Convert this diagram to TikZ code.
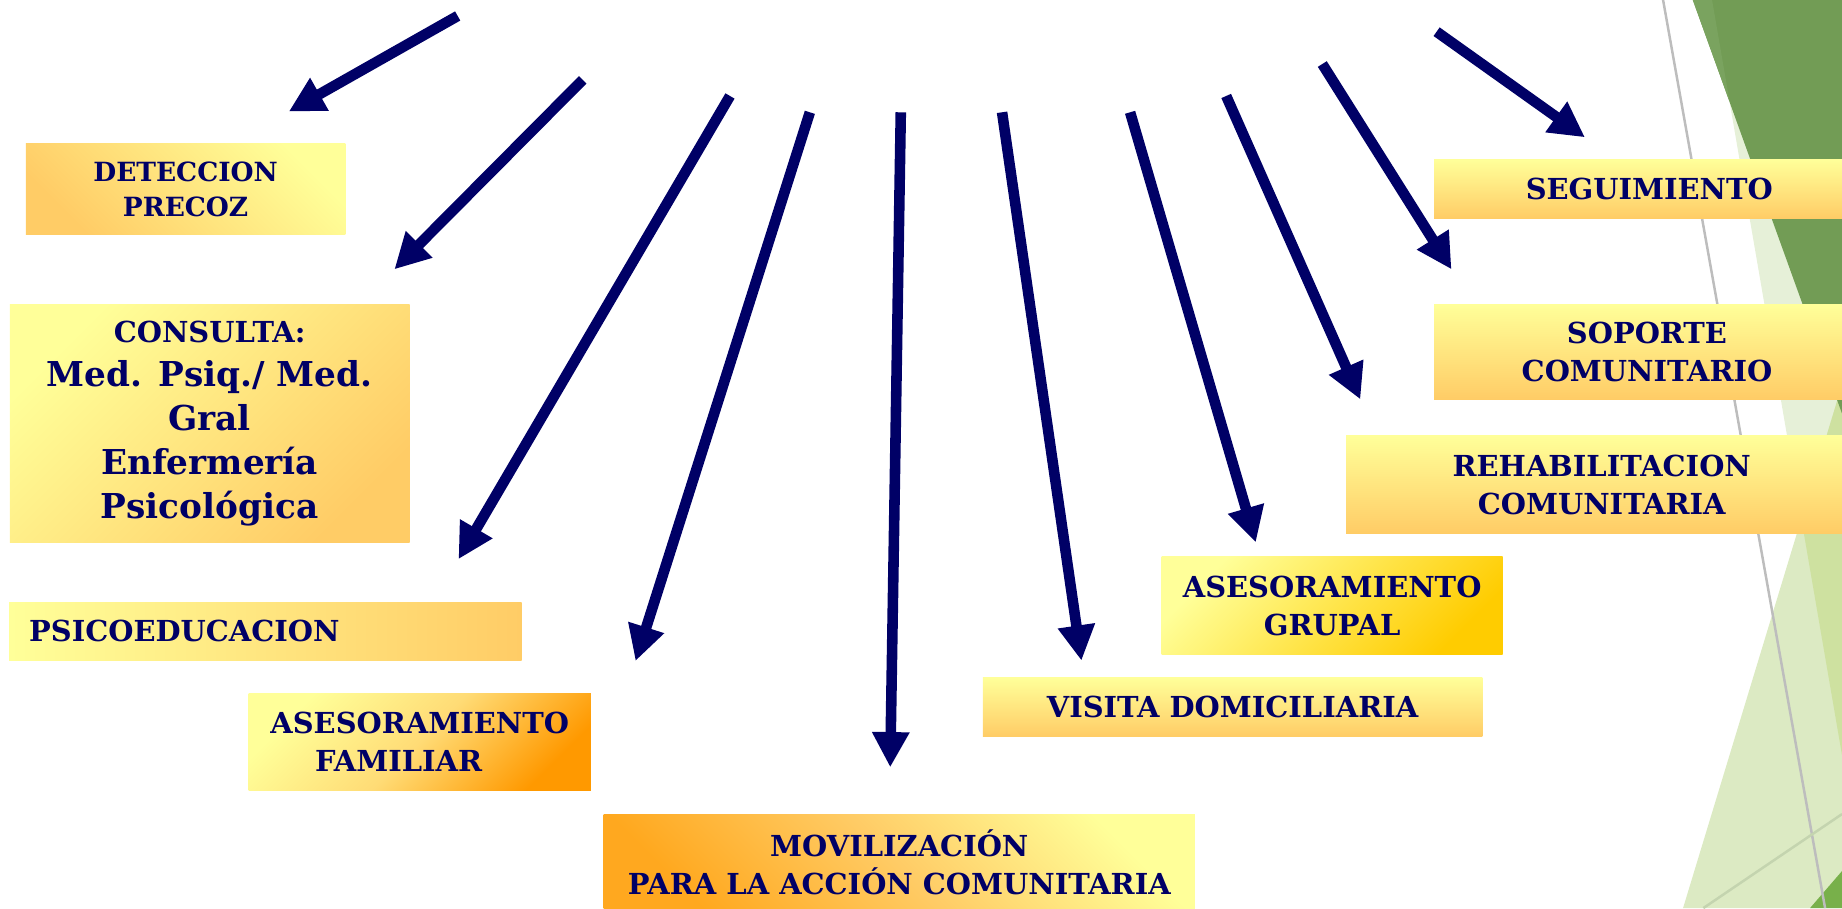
\documentclass[tikz,border=0pt]{standalone}
\usepackage{fontspec}
\setmainfont{DejaVu Serif}
\usepackage{tikz}
\usetikzlibrary{shapes,arrows.meta}

\definecolor{azul}{HTML}{000066}
\definecolor{amarillo}{HTML}{FFFF99}
\definecolor{naranja}{HTML}{FFCC66}
\definecolor{naranjafuerte}{HTML}{FF9900}
\definecolor{oro}{HTML}{FFCC00}
\definecolor{verdeoscuro}{HTML}{729C55}
\definecolor{verdeborde}{HTML}{7AA35F}
\definecolor{verdepalido}{HTML}{E6F0D8}
\definecolor{verdeclaro}{HTML}{DCEAC3}
\definecolor{verdecruce}{HTML}{CEE1A0}
\definecolor{verdemedio}{HTML}{78B04A}
\definecolor{lineagris}{HTML}{BDBDBD}
\definecolor{lineaverde}{HTML}{C4D4AF}

\tikzset{
	caja/.style={rectangle, inner sep=0pt, text=azul, align=center, font=\bfseries\fontsize{7.0}{9.2}\selectfont},
	flecha/.style={draw=azul, line width=0.09cm, -{Triangle[length=0.3cm,width=0.3cm]}},
}

\begin{document}
\begin{tikzpicture}[x=0.01cm,y=-0.01cm]
		\useasboundingbox (0,0) rectangle (1568,773);
		\clip (0,0) rectangle (1568,773);
		
		\fill[verdepalido] (1457.4,0) -- (1568,0) -- (1568,642.7) -- cycle;
		\fill[verdeclaro] (1568,327.7) -- (1432.7,773) -- (1568,773) -- cycle;
		\begin{scope}
			\clip (1457.4,0) -- (1568,0) -- (1568,642.7) -- cycle;
			\fill[verdecruce] (1568,327.7) -- (1432.7,773) -- (1568,773) -- cycle;
		\end{scope}
		\fill[verdeoscuro] (1441,0) -- (1568,0) -- (1568,352) -- cycle;
		\fill[verdeborde] (1441,0) -- (1457.4,0) -- (1472.4,86.9) -- cycle;
		\fill[verdemedio] (1540.8,773) -- (1568,741.5) -- (1568,773) -- cycle;
		\draw[lineagris, line width=0.6pt] (1415.7,0) -- (1553.6,773);
		\draw[lineaverde, line width=0.6pt] (1450,773) -- (1568,693);
		
		\node[caja, minimum width=2.72cm, minimum height=0.77cm, top color=amarillo, bottom color=naranja, shading angle=-45,
			font=\bfseries\fontsize{6.4}{8.5}\selectfont] (deteccion) at (158,161) {DETECCION\\PRECOZ};
		\node[caja, minimum width=3.40cm, minimum height=2.03cm, top color=amarillo, bottom color=naranja, shading angle=45,
			font=\bfseries\fontsize{8.3}{10.7}\selectfont] (consulta) at (178.5,360.5)
			{{\fontsize{7.0}{10.7}\selectfont CONSULTA:}\\Med. Psiq./ Med.\\Gral\\Enfermería\\Psicológica};
		\node[caja, minimum width=4.36cm, minimum height=0.50cm, text width=4.02cm, align=left,
			left color=amarillo, right color=naranja] (psicoeducacion) at (226,537.5) {PSICOEDUCACION};
		\node[caja, minimum width=2.91cm, minimum height=0.83cm, top color=amarillo, bottom color=naranjafuerte,
			middle color=naranja!70!amarillo, shading angle=45] (familiar) at (357.3,631.5)
			{ASESORAMIENTO\\FAMILIAR\hspace*{0.36cm}};
		\node[caja, minimum width=5.03cm, minimum height=0.82cm, top color=amarillo, bottom color=naranjafuerte!70!naranja,
			middle color=naranja, shading angle=-45] (movilizacion) at (765.5,734)
			{MOVILIZACIÓN\\PARA LA ACCIÓN COMUNITARIA};
		\node[caja, minimum width=4.25cm, minimum height=0.50cm, top color=amarillo, bottom color=naranja] (visita) at (1049.2,602)
			{VISITA DOMICILIARIA};
		\node[caja, minimum width=2.90cm, minimum height=0.83cm, top color=amarillo, bottom color=oro, shading angle=45] (grupal) at (1134,515.5)
			{ASESORAMIENTO\\GRUPAL};
		\node[caja, minimum width=4.35cm, minimum height=0.83cm, top color=amarillo, bottom color=naranja] (rehabilitacion) at (1363.5,412.5)
			{REHABILITACION\\COMUNITARIA};
		\node[caja, minimum width=3.62cm, minimum height=0.81cm, top color=amarillo, bottom color=naranja] (soporte) at (1402,299.5)
			{SOPORTE\\COMUNITARIO};
		\node[caja, minimum width=3.66cm, minimum height=0.50cm, top color=amarillo, bottom color=naranja] (seguimiento) at (1404,161)
			{SEGUIMIENTO};
		
		\foreach \n/\xa/\ya/\xb/\yb in {1/389.6/13.6/245.8/95, 2/496/68/335.7/229.3, 3/621.4/81.7/390.3/476,
			4/689.4/95.6/541/562.7, 5/766.8/95.6/757.8/653.2, 6/853/95.6/920.6/562.4, 7/962/95.6/1069/461.7,
			8/1043.8/81.7/1158/340, 9/1125.6/54.5/1235.6/229.3, 10/1222.9/27/1349.2/116.9} {
			\coordinate (origen\n) at (\xa,\ya);
			\coordinate (punta\n) at (\xb,\yb);
			\draw[flecha] (origen\n) -- (punta\n);
		}
		
	\end{tikzpicture}
\end{document}
